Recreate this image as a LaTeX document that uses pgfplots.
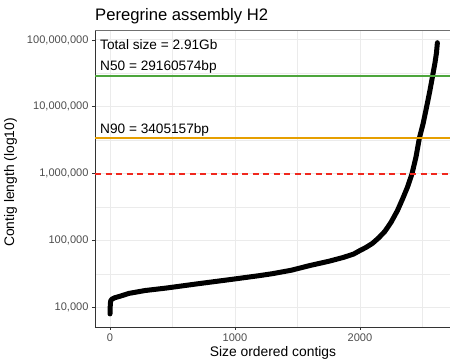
\documentclass[border=0pt]{standalone}
\usepackage{pgfplots}
\pgfplotsset{compat=1.18}
\usepackage{fontspec}
\setmainfont{Liberation Sans}
\definecolor{gridc}{RGB}{235,235,235}
\definecolor{axc}{RGB}{51,51,51}
\definecolor{tickc}{RGB}{77,77,77}
\definecolor{cgreen}{RGB}{77,166,60}
\definecolor{corange}{RGB}{230,159,0}
\definecolor{cred}{RGB}{240,40,30}
\begin{document}
\begin{tikzpicture}
\path[use as bounding box] (0bp,0bp) rectangle (450bp,361bp);
\begin{axis}[
  at={(95bp,34bp)}, anchor=south west,
  scale only axis, width=356bp, height=297bp,
  ymode=log, xmin=-120, xmax=2728, ymin=5100, ymax=1.41e8,
  axis lines=left, axis line style={-, draw=axc, line width=0.9bp},
  xtick={0,1000,2000}, xticklabels={0,1000,2000},
  ytick={1e4,1e5,1e6,1e7,1e8},
  yticklabels={{10,000},{100,000},{1,000,000},{10,000,000},{100,000,000}},
  minor xtick={500,1500,2500},
  minor ytick={31622.8,316227.8,3162277.7,31622776.6},
  grid=both,
  major grid style={gridc, line width=1bp},
  minor grid style={gridc, line width=0.55bp},
  tick align=outside, major tick length=3bp,
  major tick style={axc, line width=0.9bp},
  minor tick style={draw=none},
  ticklabel style={font=\fontsize{11.1}{13}\selectfont, text=tickc},
  clip=false,
]
\addplot[black, line width=5bp, line cap=round, line join=round] table {
x y
0 8000
1 9500
3 11500
6 12600
15 13300
40 14000
80 14700
150 16200
280 17900
450 19500
680 22300
1000 26700
1200 30000
1300 32000
1450 36000
1600 42400
1750 49000
1867 56000
1950 63000
2000 71000
2050 79400
2100 91000
2150 110000
2200 138000
2250 190000
2300 282000
2340 417000
2380 631000
2416 1000000
2448 1780000
2475 3405157
2505 5620000
2533 10000000
2560 17800000
2581 29160574
2600 45700000
2612 64600000
2619 91000000
};
\addplot[draw=cgreen, line width=1.7bp] coordinates {(-120,29160574) (2728,29160574)};
\addplot[draw=corange, line width=1.7bp] coordinates {(-120,3405157) (2728,3405157)};
\addplot[draw=cred, line width=1.7bp, dash pattern=on 6bp off 4.5bp] coordinates {(-120,1000000) (2728,1000000)};
\draw[axc!70, line width=0.9bp] (rel axis cs:0,1) -- (rel axis cs:1,1);
\node[anchor=base west, inner sep=0pt, font=\fontsize{13.7}{16}\selectfont] at (axis cs:-80,7.27e7) {Total size = 2.91Gb};
\node[anchor=base west, inner sep=0pt, font=\fontsize{13.7}{16}\selectfont] at (axis cs:-80,3.44e7) {N50 = 29160574bp};
\node[anchor=base west, inner sep=0pt, font=\fontsize{13.7}{16}\selectfont] at (axis cs:-80,3.99e6) {N90 = 3405157bp};
\end{axis}
\node[anchor=base west, inner sep=0pt, font=\fontsize{16.7}{20}\selectfont] at (95bp,340.5bp) {Peregrine assembly H2};
\node[anchor=base, inner sep=0pt, font=\fontsize{13.9}{16}\selectfont] at (273bp,4.3bp) {Size ordered contigs};
\node[anchor=base, inner sep=0pt, rotate=90, font=\fontsize{13.9}{16}\selectfont] at (14bp,178.5bp) {Contig length (log10)};
\end{tikzpicture}
\end{document}
